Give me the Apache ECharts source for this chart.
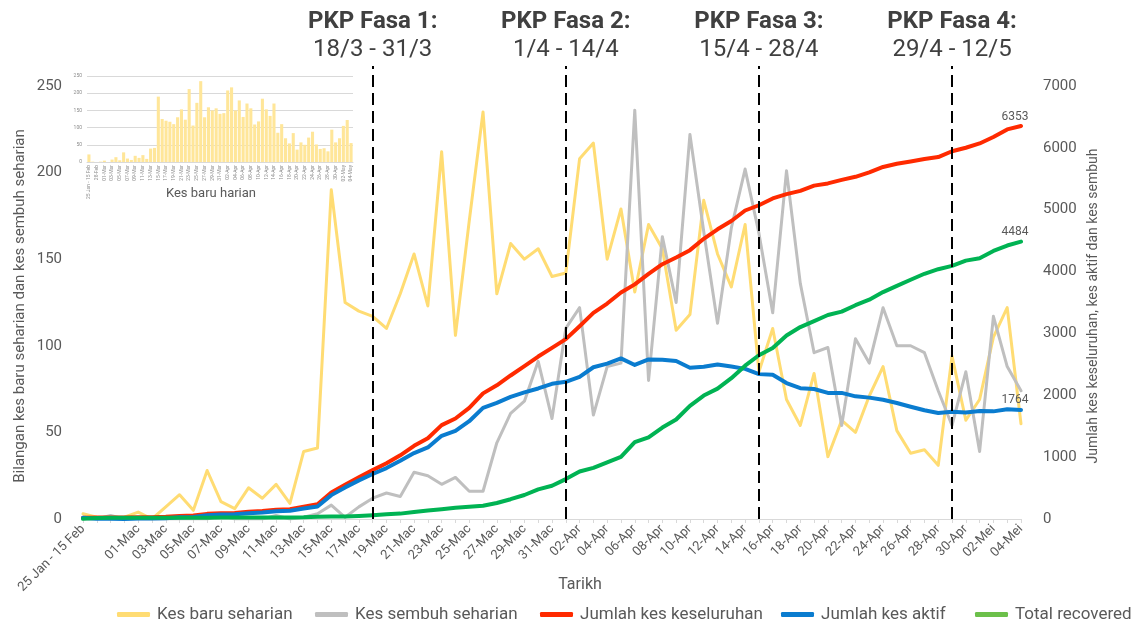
<!DOCTYPE html>
<html>
<head>
<meta charset="utf-8">
<script src="https://cdn.jsdelivr.net/npm/echarts@6/dist/echarts.min.js"></script>
<style>
  html, body { margin: 0; padding: 0; background: #fff; }
  #chart { width: 1135px; height: 622px; }
</style>
</head>
<body>
<div id="chart"></div>
<script>
// Daily categories: first bucket lumps 25 Jan - 15 Feb, then 27 Feb - 4 May
const dates = [
  "25 Jan - 15 Feb", "27-Feb", "28-Feb", "29-Feb",
  "01-Mac", "02-Mac", "03-Mac", "04-Mac", "05-Mac", "06-Mac", "07-Mac", "08-Mac", "09-Mac", "10-Mac",
  "11-Mac", "12-Mac", "13-Mac", "14-Mac", "15-Mac", "16-Mac", "17-Mac", "18-Mac", "19-Mac", "20-Mac",
  "21-Mac", "22-Mac", "23-Mac", "24-Mac", "25-Mac", "26-Mac", "27-Mac", "28-Mac", "29-Mac", "30-Mac", "31-Mac",
  "01-Apr", "02-Apr", "03-Apr", "04-Apr", "05-Apr", "06-Apr", "07-Apr", "08-Apr", "09-Apr", "10-Apr",
  "11-Apr", "12-Apr", "13-Apr", "14-Apr", "15-Apr", "16-Apr", "17-Apr", "18-Apr", "19-Apr", "20-Apr",
  "21-Apr", "22-Apr", "23-Apr", "24-Apr", "25-Apr", "26-Apr", "27-Apr", "28-Apr", "29-Apr", "30-Apr",
  "01-Mei", "02-Mei", "03-Mei", "04-Mei"
];

// left axis series
const newDaily = [
  3, 1, 0, 1, 4, 0, 7, 14, 5, 28, 10, 6, 18, 12, 20, 9, 39, 41, 190, 125,
  120, 117, 110, 130, 153, 123, 212, 106, 172, 235, 130, 159, 150, 156, 140,
  142, 208, 217, 150, 179, 131, 170, 156, 109, 118, 184, 153, 134, 170, 85,
  110, 69, 54, 84, 36, 57, 50, 71, 88, 51, 38, 40, 31, 94, 57, 69, 105, 122, 55
];
const recoveredDaily = [
  0, 0, 2, 0, 0, 0, 0, 0, 0, 0, 2, 0, 0, 0, 2, 0, 1, 3, 8, 1,
  7, 12, 15, 13, 27, 25, 20, 24, 16, 16, 44, 61, 68, 91, 58,
  110, 122, 60, 88, 90, 236, 80, 163, 125, 222, 166, 113, 168, 202, 165,
  119, 201, 136, 96, 99, 54, 104, 90, 122, 100, 100, 96, 74, 54, 85, 39, 117, 88, 74
];

// right axis series
const totalCases = [
  22, 23, 23, 24, 29, 29, 36, 50, 55, 83, 93, 99, 117, 129, 149, 158, 197, 238, 428, 553,
  673, 790, 900, 1030, 1183, 1306, 1518, 1624, 1796, 2031, 2161, 2320, 2470, 2626, 2766,
  2908, 3116, 3333, 3483, 3662, 3793, 3963, 4119, 4228, 4346, 4530, 4683, 4817, 4987, 5072,
  5182, 5251, 5305, 5389, 5425, 5482, 5532, 5603, 5691, 5742, 5780, 5820, 5851, 5945, 6002,
  6071, 6176, 6298, 6353
];
const activeCases = [
  19, 5, 3, 2, 7, 7, 14, 28, 33, 61, 71, 75, 93, 105, 125, 132, 170, 203, 386, 511,
  624, 728, 823, 940, 1066, 1157, 1345, 1426, 1581, 1796, 1876, 1973, 2048, 2110, 2186,
  2218, 2299, 2453, 2511, 2596, 2490, 2579, 2576, 2553, 2446, 2462, 2499, 2464, 2427, 2342,
  2332, 2198, 2114, 2101, 2038, 2038, 1983, 1962, 1927, 1876, 1814, 1757, 1713, 1735, 1723,
  1745, 1740, 1774, 1764
];
const totalRecovered = [
  3, 18, 20, 22, 22, 22, 22, 22, 22, 22, 24, 24, 24, 24, 26, 26, 27, 35, 42, 42,
  49, 60, 75, 87, 114, 139, 159, 183, 199, 215, 259, 320, 388, 479, 537,
  645, 767, 827, 915, 1005, 1241, 1321, 1478, 1608, 1830, 1995, 2108, 2276, 2478, 2647,
  2766, 2967, 3103, 3199, 3298, 3352, 3456, 3546, 3668, 3768, 3868, 3964, 4038, 4092, 4177,
  4216, 4333, 4421, 4484
];

// inset "Kes baru harian" bars (first bucket shows the full 22)
const insetDaily = [22].concat(newDaily.slice(1));
const insetDates = dates.map((d) => d.replace("Mac", "Mar").replace("Mei", "May"));

// PKP phase markers
const phaseDates = ["18-Mac", "01-Apr", "15-Apr", "29-Apr"];
const phaseTitles = ["PKP Fasa 1:", "PKP Fasa 2:", "PKP Fasa 3:", "PKP Fasa 4:"];
const phaseRanges = ["18/3 - 31/3", "1/4 - 14/4", "15/4 - 28/4", "29/4 - 12/5"];

const seriesNames = [
  "Kes baru seharian", "Kes sembuh seharian", "Jumlah kes keseluruhan",
  "Jumlah kes aktif", "Total recovered"
];

const FONT = "Roboto, sans-serif";
const TEXT = "#595959";
const YELLOW = "#FFDC73";
const GRAY = "#BFBFBF";
const RED = "#FF2A00";
const BLUE = "#0A7CCF";
const GREEN = "#00B353";
const GREEN_KEY = "#6CC04A";
const AXIS = "#D9D9D9";

// plot top sits above the 250 / 7000 ticks so the phase lines reach the titles
const LEFT_MAX = 261.5;
const RIGHT_MAX = 7323;

const chart = echarts.init(document.getElementById("chart"), null, { renderer: "canvas" });

function lastLabel(values) {
  const i = values.length - 1;
  return {
    symbol: "circle",
    symbolSize: 1,
    itemStyle: { color: "rgba(0,0,0,0)" },
    label: {
      show: true, position: "top", distance: 3, offset: [-6, 0],
      formatter: "{c}", color: TEXT, fontSize: 12, fontFamily: FONT,
    },
    data: [{ coord: [dates[i], values[i]], value: values[i] }],
  };
}

const legendLeft = [112, 310, 535, 776, 970];

chart.setOption({
  animation: false,
  backgroundColor: "#fff",
  textStyle: { fontFamily: FONT },
  legend: seriesNames.map((name, i) => ({
    data: [i === 4 ? { name, itemStyle: { color: GREEN_KEY } } : name],
    left: legendLeft[i],
    top: 601,
    icon: "roundRect",
    itemWidth: 33,
    itemHeight: 5,
    selectedMode: false,
    textStyle: { color: TEXT, fontSize: 17, fontFamily: FONT, padding: [0, 0, 0, 2] },
  })),
  grid: [
    { left: 83, right: 114, top: 66, bottom: 103, outerBoundsMode: "none", containLabel: false },
    { left: 87, right: 782, top: 76, bottom: 460, outerBoundsMode: "none", containLabel: false },
  ],
  xAxis: [
    {
      type: "category",
      gridIndex: 0,
      data: dates,
      boundaryGap: false,
      axisLine: { lineStyle: { color: AXIS, width: 1 } },
      axisTick: { show: true, interval: 0, length: 4, lineStyle: { color: AXIS } },
      // every second day; 28-Feb is dropped because it collides with the long first label
      axisLabel: {
        interval: (idx) => idx % 2 === 0 && idx !== 2,
        rotate: 45, color: TEXT, fontSize: 13, fontFamily: FONT, margin: 8,
      },
      splitLine: { show: false },
      name: "Tarikh",
      nameLocation: "middle",
      nameGap: 58,
      nameMoveOverlap: false,
      nameTextStyle: { color: TEXT, fontSize: 16, fontFamily: FONT, padding: [0, 0, 0, 56] },
    },
    {
      type: "category",
      gridIndex: 1,
      data: insetDates,
      axisLine: { lineStyle: { color: AXIS, width: 1 } },
      axisTick: { show: false },
      axisLabel: { interval: 1, rotate: 90, color: "#8C8C8C", fontSize: 5, margin: 3 },
      name: "Kes baru harian",
      nameLocation: "middle",
      nameGap: 25,
      nameMoveOverlap: false,
      nameTextStyle: { color: TEXT, fontSize: 13, fontFamily: FONT, padding: [0, 18, 0, 0] },
    },
  ],
  yAxis: [
    {
      type: "value",
      gridIndex: 0,
      position: "left",
      min: 0,
      max: LEFT_MAX,
      interval: 50,
      axisLine: { show: false },
      axisTick: { show: false },
      splitLine: { show: false },
      axisLabel: {
        color: TEXT, fontSize: 15, fontFamily: FONT, margin: 21,
        formatter: (v) => (v % 50 === 0 ? String(v) : ""),
      },
      name: "Bilangan kes baru seharian dan kes sembuh seharian",
      nameLocation: "middle",
      nameRotate: 90,
      nameGap: 55,
      nameMoveOverlap: false,
      nameTextStyle: { color: TEXT, fontSize: 15, fontFamily: FONT, padding: [0, 27, 0, 0] },
    },
    {
      type: "value",
      gridIndex: 0,
      position: "right",
      min: 0,
      max: RIGHT_MAX,
      interval: 1000,
      axisLine: { show: false },
      axisTick: { show: false },
      splitLine: { show: false },
      axisLabel: {
        color: TEXT, fontSize: 15, fontFamily: FONT, margin: 22,
        formatter: (v) => (v % 1000 === 0 ? String(v) : ""),
      },
      name: "Jumlah kes keseluruhan, kes aktif dan kes sembuh",
      nameLocation: "middle",
      nameRotate: 90,
      nameGap: 65,
      nameMoveOverlap: false,
      nameTextStyle: { color: TEXT, fontSize: 14, fontFamily: FONT, padding: [0, 27, 0, 0] },
    },
    {
      type: "value",
      gridIndex: 1,
      min: 0,
      max: 250,
      interval: 50,
      axisLine: { show: false },
      axisTick: { show: false },
      splitLine: { lineStyle: { color: AXIS, width: 1 } },
      axisLabel: { color: "#8C8C8C", fontSize: 5, margin: 5 },
    },
  ],
  series: [
    {
      name: seriesNames[0],
      type: "line",
      xAxisIndex: 0,
      yAxisIndex: 0,
      data: newDaily,
      color: YELLOW,
      showSymbol: false,
      lineStyle: { width: 3, color: YELLOW, cap: "round", join: "round" },
      z: 2,
      markLine: {
        silent: true,
        symbol: ["none", "none"],
        z: 10,
        lineStyle: { color: "#000", width: 2, type: [12, 6] },
        label: {
          show: true,
          position: "end",
          distance: 2,
          align: "center",
          rich: {
            b: { fontSize: 24, fontWeight: "bold", color: "#404040", lineHeight: 28, fontFamily: FONT, align: "center" },
            n: { fontSize: 24, color: "#404040", lineHeight: 28, fontFamily: FONT, align: "center" },
          },
        },
        data: phaseDates.map((d, i) => ({
          xAxis: d,
          label: { formatter: "{b|" + phaseTitles[i] + "}\n{n|" + phaseRanges[i] + "}" },
        })),
      },
    },
    {
      name: seriesNames[1],
      type: "line",
      xAxisIndex: 0,
      yAxisIndex: 0,
      data: recoveredDaily,
      color: GRAY,
      showSymbol: false,
      lineStyle: { width: 3, color: GRAY, cap: "round", join: "round" },
      z: 3,
    },
    {
      name: seriesNames[2],
      type: "line",
      xAxisIndex: 0,
      yAxisIndex: 1,
      data: totalCases,
      color: RED,
      showSymbol: false,
      lineStyle: { width: 4, color: RED, cap: "round", join: "round" },
      markPoint: lastLabel(totalCases),
      z: 4,
    },
    {
      name: seriesNames[3],
      type: "line",
      xAxisIndex: 0,
      yAxisIndex: 1,
      data: activeCases,
      color: BLUE,
      showSymbol: false,
      lineStyle: { width: 4, color: BLUE, cap: "round", join: "round" },
      markPoint: lastLabel(activeCases),
      z: 5,
    },
    {
      name: seriesNames[4],
      type: "line",
      xAxisIndex: 0,
      yAxisIndex: 1,
      data: totalRecovered,
      color: GREEN,
      showSymbol: false,
      lineStyle: { width: 4, color: GREEN, cap: "round", join: "round" },
      markPoint: lastLabel(totalRecovered),
      z: 6,
    },
    {
      name: "Kes baru harian",
      type: "bar",
      xAxisIndex: 1,
      yAxisIndex: 2,
      data: insetDaily,
      barCategoryGap: "20%",
      itemStyle: { color: "#FFE699" },
      silent: true,
    },
  ],
});
</script>
</body>
</html>
